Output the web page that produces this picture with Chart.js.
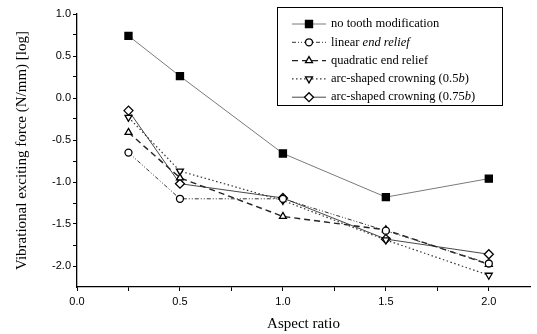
<!DOCTYPE html>
<html>
<head>
<meta charset="utf-8">
<script src="https://cdn.jsdelivr.net/npm/chart.js@4/dist/chart.umd.min.js"></script>
<style>
  html, body { margin: 0; padding: 0; background: #fff; }
  #wrap { width: 537px; height: 334px; }
</style>
</head>
<body>
<div id="wrap"><canvas id="chart" width="537" height="334"></canvas></div>
<script>
// aspect ratios on the x axis
const aspectRatios = [0.25, 0.5, 1.0, 1.5, 2.0];

// log of vibrational exciting force
const noModification     = [0.74, 0.26, -0.66, -1.18, -0.96];
const linearEndRelief    = [-0.65, -1.20, -1.20, -1.58, -1.97];
const quadraticEndRelief = [-0.41, -0.95, -1.41, -1.57, -1.98];
const crowning05b        = [-0.23, -0.87, -1.22, -1.69, -2.11];
const crowning075b       = [-0.15, -1.02, -1.19, -1.68, -1.86];

// legend text: [normal part, italic part, trailing normal part]
const legendLabels = [
  ['no tooth modification', '', ''],
  ['linear ', 'end relief', ''],
  ['quadratic end relief', '', ''],
  ['arc-shaped crowning (0.5', 'b', ')'],
  ['arc-shaped crowning (0.75', 'b', ')']
];

const xTitle = 'Aspect ratio';
const yTitle = 'Vibrational exciting force (N/mm) [log]';

const serif = '"Liberation Serif", "DejaVu Serif", serif';
const sans = '"Liberation Sans", Arial, sans-serif';

function pts(vals) {
  return aspectRatios.map((x, i) => ({ x: x, y: vals[i] }));
}

const styles = [
  { color: '#7a7a7a', dash: [], width: 1, point: 'rect', radius: 5, fill: '#000', rot: 0 },
  { color: '#333', dash: [4, 2, 1, 2, 1, 2], width: 1, point: 'circle', radius: 3.5, fill: '#fff', rot: 0 },
  { color: '#222', dash: [6, 4], width: 1.4, point: 'triangle', radius: 4, fill: '#fff', rot: 0 },
  { color: '#333', dash: [1.5, 2.5], width: 1.2, point: 'triangle', radius: 4, fill: '#fff', rot: 180 },
  { color: '#333', dash: [], width: 0.9, point: 'rectRot', radius: 4.5, fill: '#fff', rot: 0 }
];

const seriesValues = [noModification, linearEndRelief, quadraticEndRelief, crowning05b, crowning075b];

const datasets = seriesValues.map((vals, i) => ({
  label: legendLabels[i].join(''),
  data: pts(vals),
  borderColor: styles[i].color,
  borderDash: styles[i].dash,
  borderWidth: styles[i].width,
  pointStyle: styles[i].point,
  pointRadius: styles[i].radius,
  pointRotation: styles[i].rot,
  pointBackgroundColor: styles[i].fill,
  pointBorderColor: '#000',
  pointBorderWidth: 1.3,
  tension: 0
}));

function drawMarker(ctx, st, x, y) {
  ctx.save();
  ctx.setLineDash([]);
  ctx.lineWidth = 1.3;
  ctx.strokeStyle = '#000';
  ctx.fillStyle = st.fill;
  ctx.beginPath();
  const r = st.radius;
  if (st.point === 'rect') {
    const s = r * Math.SQRT1_2;
    ctx.rect(x - s, y - s, 2 * s, 2 * s);
  } else if (st.point === 'circle') {
    ctx.arc(x, y, r, 0, Math.PI * 2);
  } else if (st.point === 'triangle') {
    const d = st.rot === 180 ? -1 : 1;
    ctx.moveTo(x, y - d * r);
    ctx.lineTo(x + r * 0.87, y + d * r * 0.5);
    ctx.lineTo(x - r * 0.87, y + d * r * 0.5);
    ctx.closePath();
  } else {
    ctx.moveTo(x, y - r);
    ctx.lineTo(x + r, y);
    ctx.lineTo(x, y + r);
    ctx.lineTo(x - r, y);
    ctx.closePath();
  }
  ctx.fill();
  ctx.stroke();
  ctx.restore();
}

// boxed legend in the top right, like the original figure
const boxLegend = {
  id: 'boxLegend',
  afterDraw(chart) {
    const ctx = chart.ctx;
    ctx.save();
    ctx.strokeStyle = '#000';
    ctx.lineWidth = 1;
    ctx.setLineDash([]);
    ctx.strokeRect(277.5, 7.5, 225, 98);
    legendLabels.forEach((lab, i) => {
      const y = 24 + i * 18.3;
      const st = styles[i];
      ctx.save();
      ctx.strokeStyle = st.color;
      ctx.lineWidth = st.width;
      ctx.setLineDash(st.dash);
      ctx.beginPath();
      ctx.moveTo(292, y);
      ctx.lineTo(326, y);
      ctx.stroke();
      ctx.restore();
      drawMarker(ctx, st, 309, y);

      ctx.fillStyle = '#000';
      ctx.textBaseline = 'middle';
      ctx.textAlign = 'left';
      let x = 331;
      ctx.font = '12.5px ' + serif;
      ctx.fillText(lab[0], x, y);
      x += ctx.measureText(lab[0]).width;
      if (lab[1]) {
        ctx.font = 'italic 12.5px ' + serif;
        ctx.fillText(lab[1], x, y);
        x += ctx.measureText(lab[1]).width;
      }
      if (lab[2]) {
        ctx.font = '12.5px ' + serif;
        ctx.fillText(lab[2], x, y);
      }
    });
    ctx.restore();
  }
};

function halfLabel(v) {
  return Math.abs(v * 2 - Math.round(v * 2)) < 1e-6 ? v.toFixed(1) : '';
}

new Chart(document.getElementById('chart'), {
  type: 'line',
  data: { datasets: datasets },
  options: {
    responsive: false,
    animation: false,
    devicePixelRatio: 1,
    layout: { padding: { left: 0, top: 14, right: 7, bottom: 0 } },
    plugins: {
      legend: { display: false },
      tooltip: { enabled: false }
    },
    scales: {
      x: {
        type: 'linear',
        min: 0,
        max: 2.2,
        afterFit: s => { s.height = 47; },
        afterBuildTicks: s => { s.ticks = s.ticks.filter(t => t.value <= 2.0001); },
        border: { display: true, color: '#000', width: 1.3 },
        grid: { drawOnChartArea: false, drawTicks: true, tickLength: 4, color: '#000' },
        ticks: {
          stepSize: 0.25,
          autoSkip: false,
          maxRotation: 0,
          padding: 4,
          color: '#000',
          font: { family: sans, size: 11 },
          callback: v => halfLabel(v)
        },
        title: {
          display: true,
          text: xTitle,
          color: '#000',
          font: { family: serif, size: 15 },
          padding: { top: 0, bottom: 1 }
        }
      },
      y: {
        type: 'linear',
        min: -2.25,
        max: 1.0,
        afterFit: s => { s.width = 77; },
        afterBuildTicks: s => { s.ticks = s.ticks.filter(t => t.value > -2.2); },
        border: { display: true, color: '#000', width: 1.3 },
        grid: { drawOnChartArea: false, drawTicks: true, tickLength: 4, color: '#000' },
        ticks: {
          stepSize: 0.25,
          autoSkip: false,
          padding: 2,
          color: '#000',
          font: { family: sans, size: 11 },
          callback: v => halfLabel(v)
        },
        title: {
          display: true,
          text: yTitle,
          color: '#000',
          font: { family: serif, size: 15 },
          padding: { top: 13, bottom: 0 }
        }
      }
    }
  },
  plugins: [boxLegend]
});
</script>
</body>
</html>
